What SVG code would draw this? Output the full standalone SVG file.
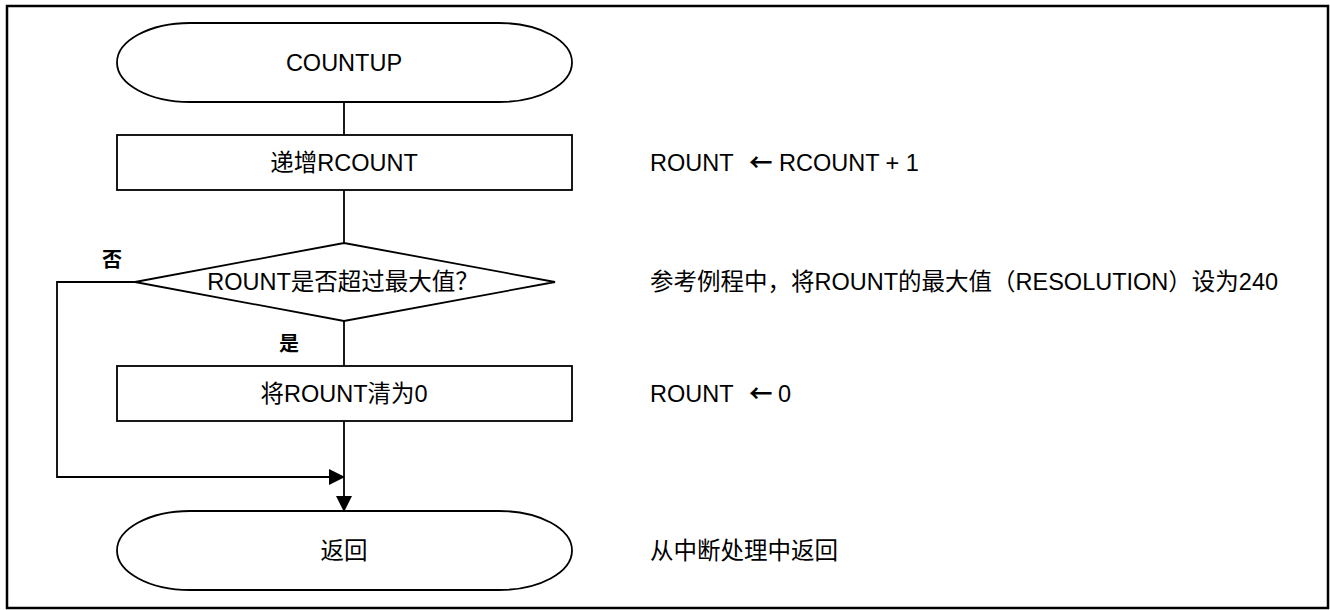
<svg xmlns="http://www.w3.org/2000/svg" width="1330" height="610" viewBox="0 0 1330 610">
<defs>
<style>
.s{fill:#fff;stroke:#000;stroke-width:1.8}
.c{fill:none;stroke:#000;stroke-width:1.8}
.t{font-family:"Liberation Sans","Noto Sans CJK SC",sans-serif;font-size:23.5px;fill:#000}
.m{text-anchor:middle}
.b{font-family:"Noto Sans CJK SC",sans-serif;font-size:20px;font-weight:bold;fill:#000}
.a{font-family:"Noto Sans CJK SC",sans-serif;font-weight:bold}
</style>
<marker id="ah" markerWidth="16" markerHeight="16" refX="15" refY="8" orient="auto" markerUnits="userSpaceOnUse">
<path d="M0,0 L16,8 L0,16 Z" fill="#000"/>
</marker>
</defs>
<rect x="7" y="6" width="1321" height="602" fill="#fff" stroke="#000" stroke-width="2.5"/>
<g id="connectors">
<line class="c" x1="344" y1="102" x2="344" y2="135"/>
<line class="c" x1="344" y1="190" x2="344" y2="243"/>
<line class="c" x1="344" y1="321" x2="344" y2="366"/>
<line class="c" x1="344" y1="421" x2="344" y2="511" marker-end="url(#ah)"/>
<polyline class="c" points="135,282 57,282 57,477 344,477" marker-end="url(#ah)"/>
</g>
<g id="start">
<rect class="s" x="117" y="23" width="455" height="79" rx="73" ry="39.5"/>
<text class="t m" x="344" y="71">COUNTUP</text>
</g>
<g id="inc">
<rect class="s" x="117" y="135" width="455" height="55"/>
<text class="t m" x="344" y="171">递增RCOUNT</text>
</g>
<g id="decision">
<polygon class="s" points="344,243 555,282 344,321 135,282"/>
<text class="t m" x="343" y="290">ROUNT是否超过最大值？</text>
<text class="b m" x="112" y="267">否</text>
<text class="b m" x="289" y="351">是</text>
</g>
<g id="clear">
<rect class="s" x="117" y="366" width="455" height="55"/>
<text class="t m" x="344" y="402">将ROUNT清为0</text>
</g>
<g id="end">
<rect class="s" x="117" y="511" width="455" height="79" rx="73" ry="39.5"/>
<text class="t m" x="344" y="559">返回</text>
</g>
<g id="notes">
<text class="t" x="650" y="171">ROUNT<tspan class="a" x="749">←</tspan><tspan x="779">RCOUNT + 1</tspan></text>
<text class="t" x="650" y="290">参考例程中，将ROUNT的最大值（RESOLUTION）设为240</text>
<text class="t" x="650" y="402">ROUNT<tspan class="a" x="749">←</tspan><tspan x="778">0</tspan></text>
<text class="t" x="650" y="559">从中断处理中返回</text>
</g>
</svg>
